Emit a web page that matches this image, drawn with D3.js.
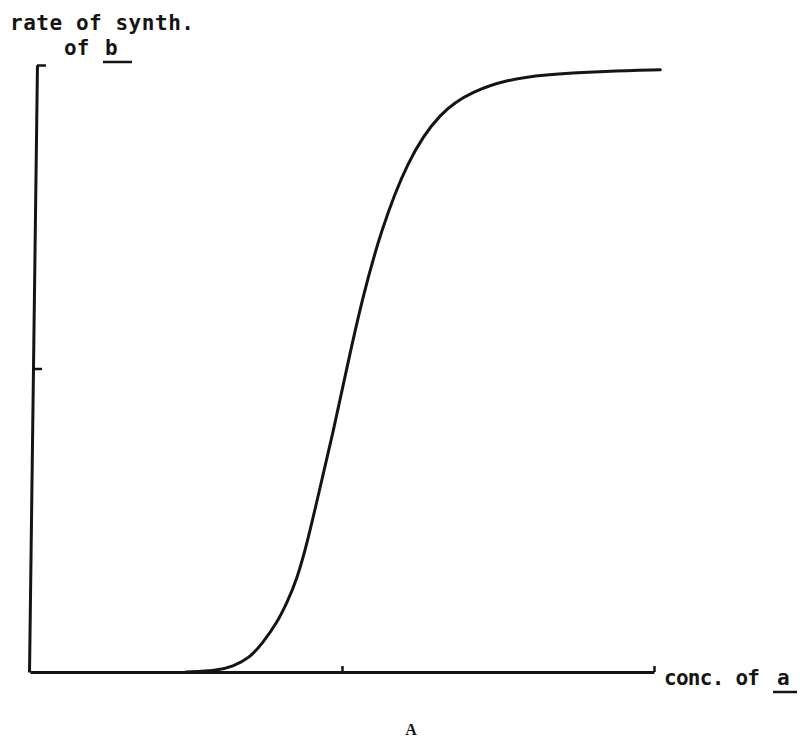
<!DOCTYPE html>
<html>
<head>
<meta charset="utf-8">
<script src="https://cdn.jsdelivr.net/npm/d3@7"></script>
<style>
  html, body { margin: 0; padding: 0; background: #fff; }
  svg { display: block; }
</style>
</head>
<body>
<svg id="chart" width="801" height="743"></svg>
<script>
// ---- data ----
const concA = [0.50, 0.598, 0.650, 0.704, 0.746, 0.791, 0.823, 0.855, 0.891, 0.930, 0.971, 1.016, 1.064, 1.122, 1.209, 1.315, 1.421, 1.531, 1.637, 1.852, 2.02];
const rateB = [0, 0.004, 0.018, 0.046, 0.096, 0.161, 0.227, 0.303, 0.435, 0.61, 0.787, 1.005, 1.226, 1.446, 1.687, 1.848, 1.915, 1.951, 1.968, 1.980, 1.984];
const xTickValues = [1, 2];
const yTickValues = [1, 2];
const yLabelLines = ["rate of synth.", "of b"];
const xLabel = "conc. of a";
const panelLabel = "A";

const ink = "#141414";
const svg = d3.select("#chart");

const x = d3.scaleLinear().domain([0, 2]).range([30, 654]);
const y = d3.scaleLinear().domain([0, 2]).range([672, 65]);

// y axis (hand-drawn slight tilt)
const gy = svg.append("g")
  .attr("transform", "translate(33,368) skewX(-0.75) translate(0,-368)")
  .call(d3.axisLeft(y).tickValues(yTickValues).tickSize(-9).tickSizeOuter(0).tickFormat(""));
gy.select(".domain").attr("stroke", ink).attr("stroke-width", 3);
gy.selectAll(".tick line").attr("stroke", ink).attr("stroke-width", 2.5);

// x axis
const gx = svg.append("g")
  .attr("transform", "translate(0,672)")
  .call(d3.axisBottom(x).tickValues(xTickValues).tickSize(-6).tickSizeOuter(0).tickFormat(""));
gx.select(".domain").attr("stroke", ink).attr("stroke-width", 3);
gx.selectAll(".tick line").attr("stroke", ink).attr("stroke-width", 2.5);

// curve
const data = concA.map((c, i) => ({ c, r: rateB[i] }));
svg.append("path")
  .datum(data)
  .attr("fill", "none")
  .attr("stroke", ink)
  .attr("stroke-width", 3)
  .attr("stroke-linecap", "round")
  .attr("d", d3.line().x(d => x(d.c)).y(d => y(d.r)).curve(d3.curveBasis));

// labels
const font = "'DejaVu Sans Mono', monospace";
svg.append("text")
  .attr("x", 10).attr("y", 30)
  .attr("font-family", font).attr("font-weight", "bold").attr("font-size", 21)
  .attr("textLength", 184).attr("lengthAdjust", "spacing")
  .attr("fill", ink)
  .text(yLabelLines[0]);

const l2 = svg.append("text")
  .attr("x", 64).attr("y", 55)
  .attr("font-family", font).attr("font-weight", "bold").attr("font-size", 21)
  .attr("fill", ink);
l2.append("tspan").text(yLabelLines[1].split(" ")[0]);
l2.append("tspan").attr("x", 105).text(yLabelLines[1].split(" ")[1]);
svg.append("line").attr("x1", 103).attr("x2", 132).attr("y1", 62).attr("y2", 62)
  .attr("stroke", ink).attr("stroke-width", 2.5);

const parts = xLabel.split(" ");
const xl = svg.append("text")
  .attr("x", 664).attr("y", 685)
  .attr("font-family", font).attr("font-weight", "bold").attr("font-size", 21)
  .attr("fill", ink);
xl.append("tspan").attr("textLength", 96).attr("lengthAdjust", "spacing").text(parts[0] + " " + parts[1]);
xl.append("tspan").attr("x", 777).text(parts[2]);
svg.append("line").attr("x1", 773).attr("x2", 797).attr("y1", 692).attr("y2", 692)
  .attr("stroke", ink).attr("stroke-width", 2.5);

svg.append("text")
  .attr("x", 411).attr("y", 735)
  .attr("text-anchor", "middle")
  .attr("font-family", "'Liberation Serif', serif").attr("font-weight", "bold").attr("font-size", 16)
  .attr("fill", ink)
  .text(panelLabel);
</script>
</body>
</html>
